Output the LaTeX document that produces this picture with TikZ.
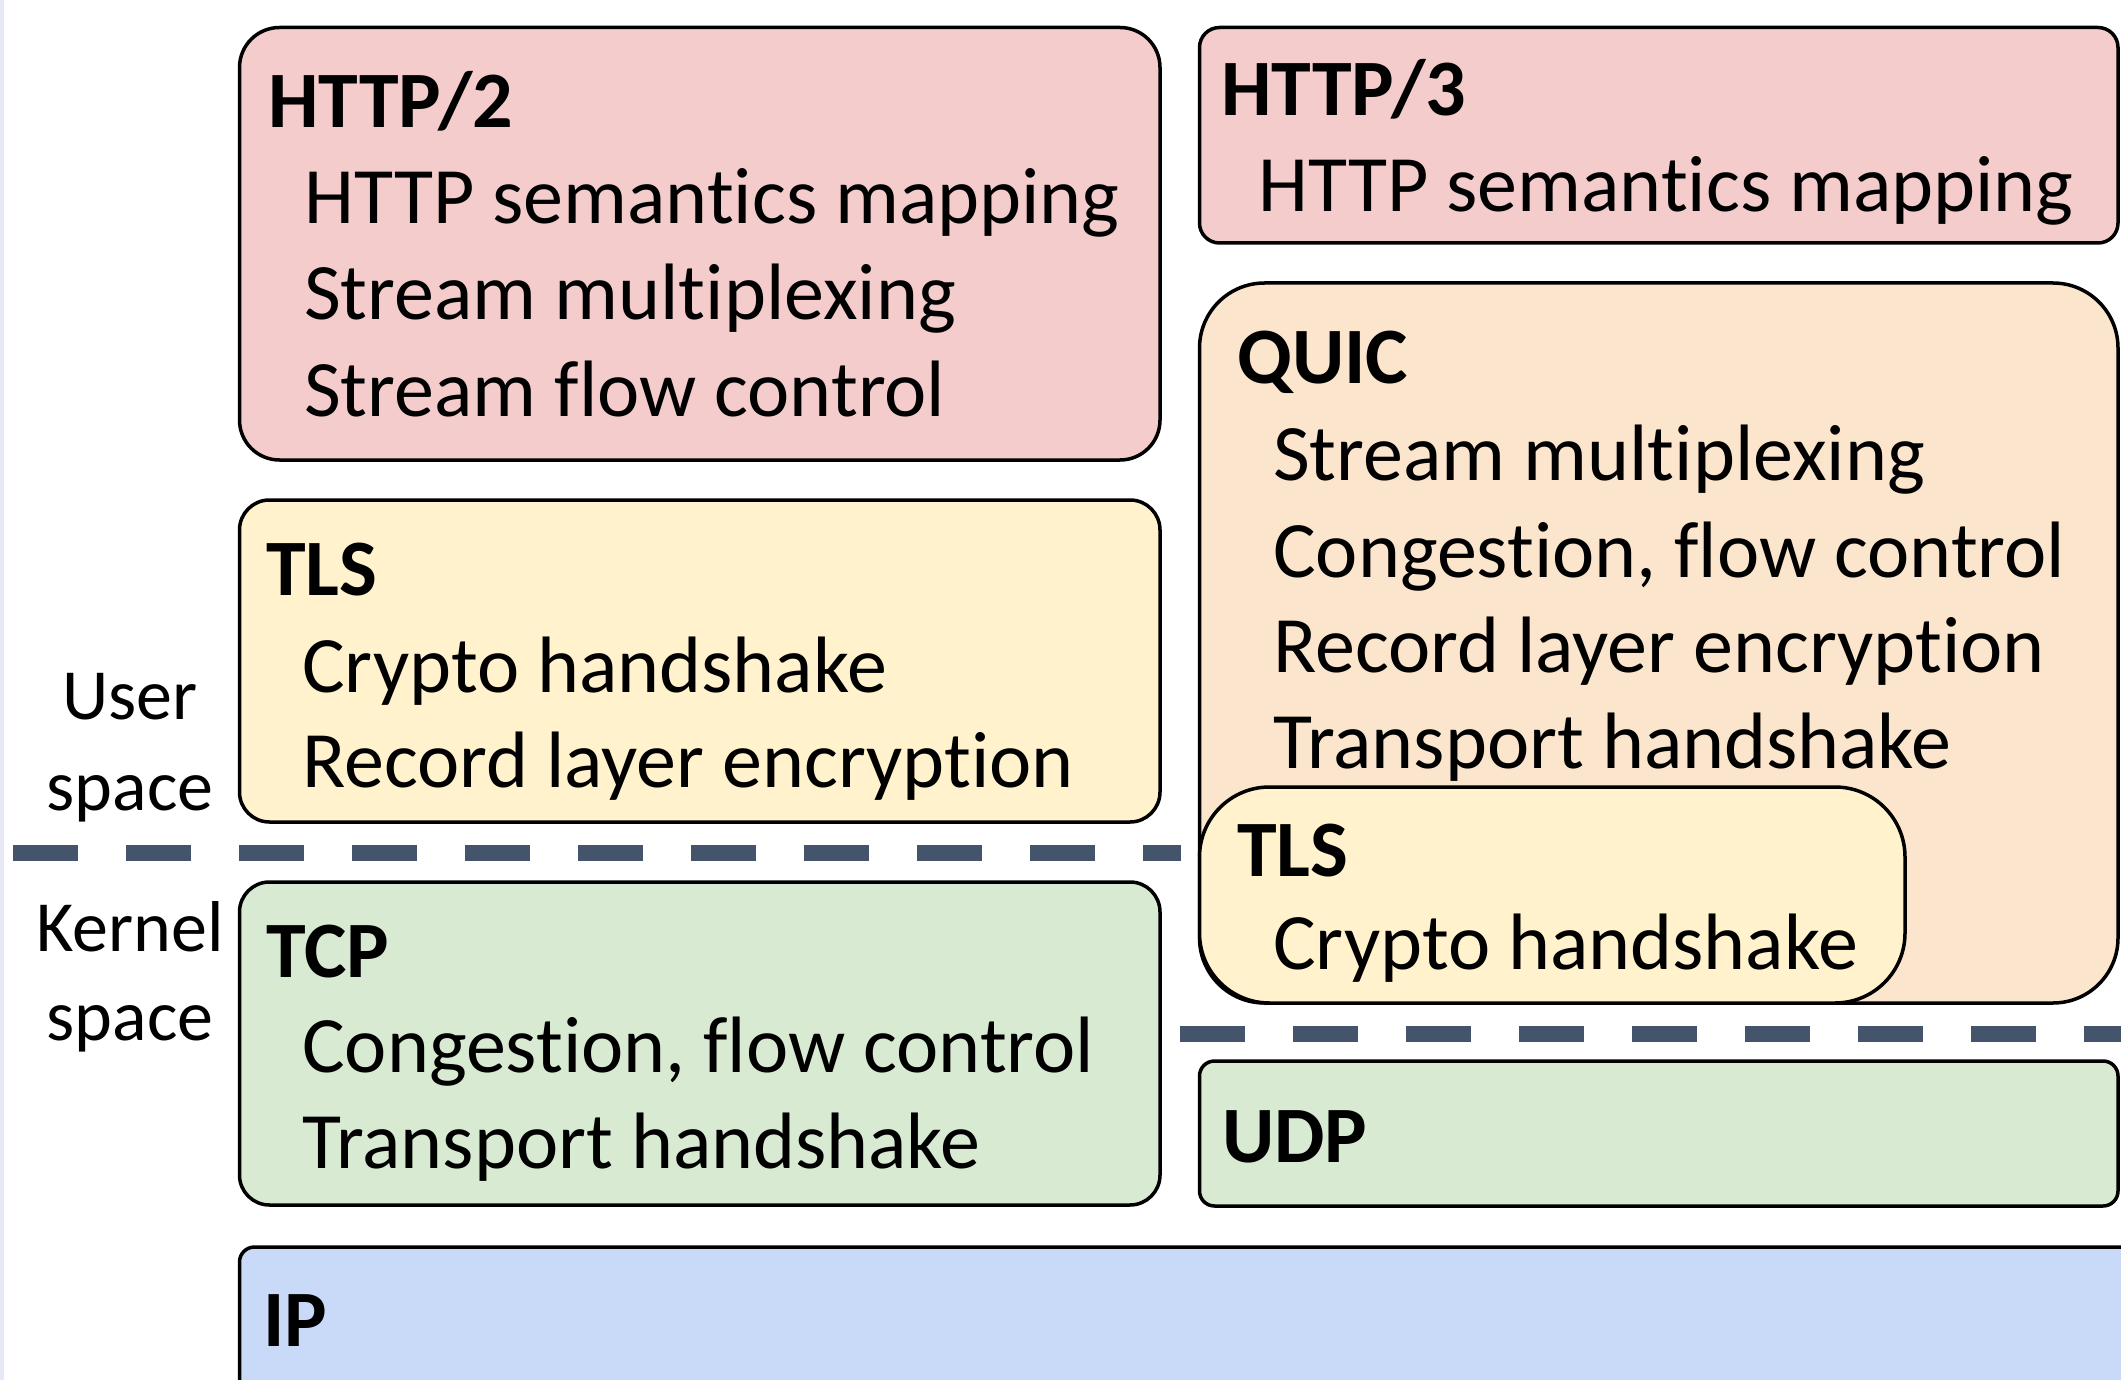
\documentclass[tikz,border=0pt]{standalone}
\usepackage{fontspec}
\setmainfont{Carlito}[Ligatures={NoCommon,NoContextual},Contextuals={NoAlternate}]
\definecolor{pinkc}{HTML}{F4CCCC}
\definecolor{yellc}{HTML}{FFF2CC}
\definecolor{orngc}{HTML}{FCE5CD}
\definecolor{grnc}{HTML}{D9EAD3}
\definecolor{bluec}{HTML}{C9DAF8}
\definecolor{dashc}{HTML}{44546A}
\definecolor{stripc}{HTML}{E6E9F5}
\tikzset{
  layerbox/.style={draw=black, line width=3.5pt, inner sep=0pt, outer sep=0pt},
  ttl/.style={anchor=base west, inner sep=0pt, font=\bfseries\fontsize{80}{96}\selectfont},
  itm/.style={anchor=base west, inner sep=0pt, font=\fontsize{80}{96}\selectfont},
  side/.style={anchor=base, inner sep=0pt, font=\fontsize{72}{86}\selectfont},
  divider/.style={draw=dashc, line width=16pt, dash pattern=on 65pt off 48pt},
}
\begin{document}
\begin{tikzpicture}[x=1pt,y=-1pt]
\useasboundingbox (0,0) rectangle (2121,1380);
\clip (0,0) rectangle (2121,1380);
\fill[white] (0,0) rectangle (2121,1380);
\fill[stripc] (0,0) rectangle (4,1380);

% boxes
\node[layerbox, fill=pinkc, rounded corners=40pt, minimum width=920.5pt, minimum height=432.5pt] (h2) at (699.75,243.75) {};
\node[layerbox, fill=pinkc, rounded corners=20pt, minimum width=918.5pt, minimum height=215.5pt] (h3) at (1658.75,135.25) {};
\node[layerbox, fill=orngc, rounded corners=65pt, minimum width=918.5pt, minimum height=720pt] (quic) at (1658.75,643) {};
\node[layerbox, fill=yellc, rounded corners=70pt, minimum width=705.5pt, minimum height=216pt] (tlsq) at (1552.25,895) {};
\node[layerbox, fill=yellc, rounded corners=30pt, minimum width=920.5pt, minimum height=322pt] (tls) at (699.75,661) {};
\node[layerbox, fill=grnc, rounded corners=30pt, minimum width=920.5pt, minimum height=323pt] (tcp) at (699.75,1043.5) {};
\node[layerbox, fill=grnc, rounded corners=15pt, minimum width=918.5pt, minimum height=145pt] (udp) at (1658.75,1133.5) {};
\node[layerbox, fill=bluec, rounded corners=15pt, minimum width=1960pt, minimum height=203pt] (ip) at (1219.5,1348.5) {};

% dividers
\coordinate (d1a) at (13,853);
\coordinate (d1b) at (1181,853);
\coordinate (d2a) at (1180,1033.5);
\coordinate (d2b) at (2130,1033.5);
\draw[divider] (d1a) -- (d1b);
\draw[divider] (d2a) -- (d2b);

% HTTP/2
\node[ttl] (h2t) at (268,128) {HTTP/2};
\node[itm] (h2a) at (304,224) {HTTP semant\kern0pt ics mapping};
\node[itm] (h2b) at (304,320) {Stream multiplexing};
\node[itm] (h2c) at (304,416) {Stream f\kern0pt low control};
% TLS left
\node[ttl] (tlst) at (266,595) {TLS};
\node[itm] (tlsa) at (302,692) {Crypto handshake};
\node[itm] (tlsb) at (302,787) {Record layer encrypt\kern0pt ion};
% TCP
\node[ttl] (tcpt) at (266,977) {TCP};
\node[itm] (tcpa) at (302,1072) {Congest\kern0pt ion, f\kern0pt low control};
\node[itm] (tcpb) at (302,1168) {Transport handshake};
% IP
\node[ttl] (ipt) at (263,1346) {IP};
% HTTP/3
\node[ttl] (h3t) at (1221,116) {HTTP/3};
\node[itm] (h3a) at (1258,212) {HTTP semant\kern0pt ics mapping};
% QUIC
\node[ttl] (qt) at (1237,383) {QUIC};
\node[itm] (qa) at (1273,480) {Stream multiplexing};
\node[itm] (qb) at (1273,577) {Congest\kern0pt ion, f\kern0pt low control};
\node[itm] (qc) at (1273,672) {Record layer encrypt\kern0pt ion};
\node[itm] (qd) at (1273,768) {Transport handshake};
% TLS in QUIC
\node[ttl] (tlsqt) at (1237,876) {TLS};
\node[itm] (tlsqa) at (1273,969) {Crypto handshake};
% UDP
\node[ttl] (udpt) at (1222,1162) {UDP};

% side labels
\node[side] (us1) at (130,719) {User};
\node[side] (us2) at (130,810) {space};
\node[side] (ks1) at (130,951) {Kernel};
\node[side] (ks2) at (130,1040) {space};
\end{tikzpicture}
\end{document}
